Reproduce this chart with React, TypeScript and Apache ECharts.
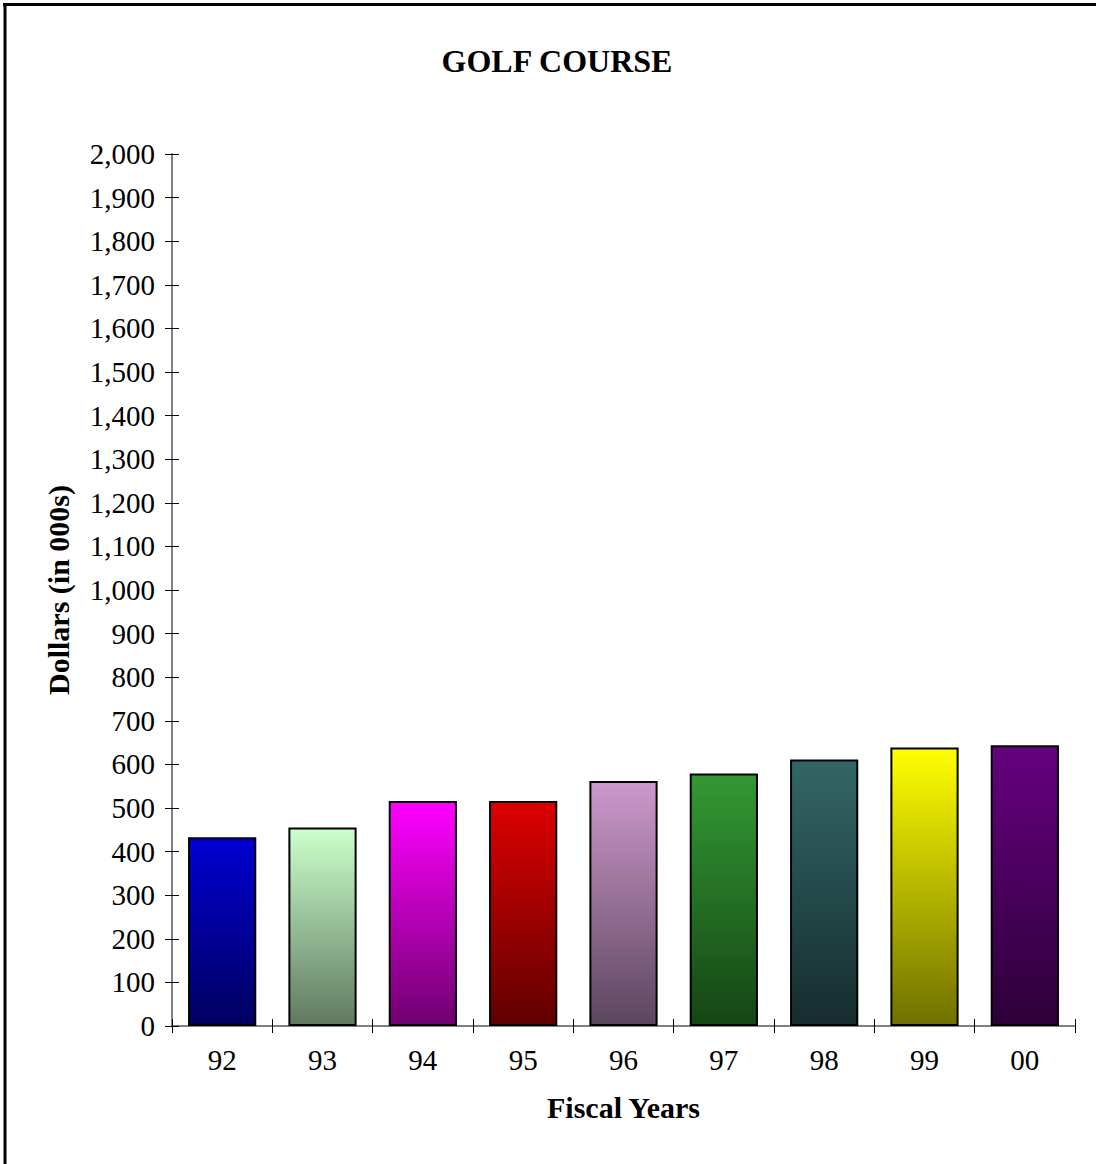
import React, { useEffect, useRef } from "react";
import * as echarts from "echarts";

const categories = ["92", "93", "94", "95", "96", "97", "98", "99", "00"];
const values = [433, 455, 516, 516, 562, 579, 611, 639, 644];
const topColors = ["#0000d2", "#ccffcc", "#ff00ff", "#dd0000", "#cc99cc", "#339933", "#336666", "#ffff00", "#660080"];
const bottomColors = ["#000060", "#5f7a5f", "#700070", "#600000", "#5d4560", "#154515", "#162c2e", "#707000", "#2d0038"];
const yTicks = { min: 0, max: 2000, interval: 100 };

const FONT = "'Liberation Serif', 'Times New Roman', serif";

export default function App() {
  const ref = useRef<HTMLDivElement>(null);

  useEffect(() => {
    if (!ref.current) return;
    const chart = echarts.init(ref.current, undefined, { renderer: "svg" });
    const fmt = (v: number) => v.toLocaleString("en-US");
    const yBase = {
      type: "value" as const,
      min: yTicks.min,
      max: yTicks.max,
      interval: yTicks.interval,
      position: "left" as const,
      splitLine: { show: false },
    };
    const xBase = {
      type: "category" as const,
      data: categories,
      position: "bottom" as const,
      boundaryGap: true,
    };
    chart.setOption({
      animation: false,
      backgroundColor: "#ffffff",
      textStyle: { fontFamily: FONT },
      title: {
        text: "GOLF COURSE",
        left: 552,
        top: 40,
        textAlign: "center",
        textStyle: { fontFamily: FONT, fontSize: 32, fontWeight: "bold", color: "#000" },
      },
      grid: { left: 172, right: 21, top: 154, bottom: 138, containLabel: false },
      xAxis: [
        {
          ...xBase,
          name: "Fiscal Years",
          nameLocation: "middle",
          nameGap: 66,
          nameTextStyle: { fontFamily: FONT, fontSize: 30, fontWeight: "bold", color: "#000" },
          axisLine: { show: true, lineStyle: { color: "#808080", width: 2 } },
          axisTick: { show: true, inside: false, length: 7, lineStyle: { color: "#000", width: 1 } },
          axisLabel: { show: true, margin: 19, fontFamily: FONT, fontSize: 29, color: "#000" },
        },
        {
          ...xBase,
          axisLine: { show: false },
          axisTick: { show: true, inside: true, length: 7, lineStyle: { color: "#000", width: 1 } },
          axisLabel: { show: false },
        },
      ],
      yAxis: [
        {
          ...yBase,
          name: "Dollars (in 000s)",
          nameLocation: "middle",
          nameGap: 99,
          nameTextStyle: { fontFamily: FONT, fontSize: 30, fontWeight: "bold", color: "#000" },
          axisLine: { show: true, lineStyle: { color: "#808080", width: 2 } },
          axisTick: { show: true, inside: false, length: 7, lineStyle: { color: "#000", width: 1 } },
          axisLabel: { show: true, margin: 17, fontFamily: FONT, fontSize: 29, color: "#000", formatter: fmt },
        },
        {
          ...yBase,
          axisLine: { show: false },
          axisTick: { show: true, inside: true, length: 7, lineStyle: { color: "#000", width: 1 } },
          axisLabel: { show: false },
        },
      ],
      series: [
        {
          type: "bar",
          xAxisIndex: 0,
          yAxisIndex: 0,
          barCategoryGap: "32%",
          data: values.map((v, i) => ({
            value: v,
            itemStyle: {
              color: new echarts.graphic.LinearGradient(0, 0, 0, 1, [
                { offset: 0, color: topColors[i] },
                { offset: 1, color: bottomColors[i] },
              ]),
              borderColor: "#000",
              borderWidth: 2,
            },
          })),
        },
      ],
      graphic: [
        { type: "line", shape: { x1: 3, y1: 4.5, x2: 1096, y2: 4.5 }, style: { stroke: "#000", lineWidth: 3 } },
        { type: "line", shape: { x1: 5, y1: 3, x2: 5, y2: 1164 }, style: { stroke: "#000", lineWidth: 3 } },
      ],
    });
    return () => chart.dispose();
  }, []);

  return (
    <div
      ref={ref}
      style={{ position: "absolute", left: 0, top: 0, width: 1096, height: 1164, background: "#fff" }}
    />
  );
}
